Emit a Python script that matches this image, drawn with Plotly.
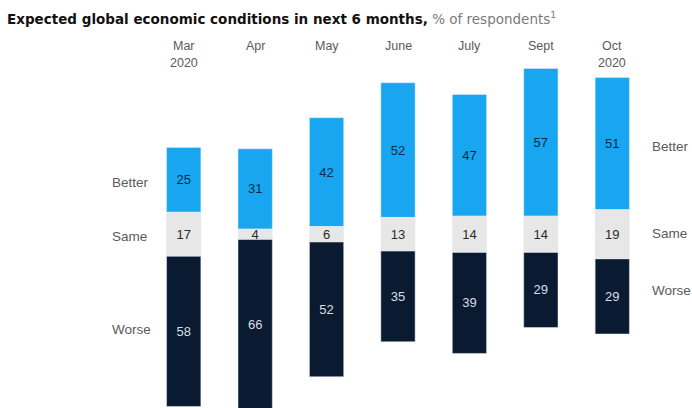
import plotly.graph_objects as go

months = ["Mar", "Apr", "May", "June", "July", "Sept", "Oct"]
years = ["2020", "", "", "", "", "", "2020"]
better = [25, 31, 42, 52, 47, 57, 51]
same = [17, 4, 6, 13, 14, 14, 19]
worse = [58, 66, 52, 35, 39, 29, 29]

C_BETTER = "#17a6ef"
C_SAME = "#e7e7e7"
C_WORSE = "#0a1a30"
GRAY = "#5a5a5a"
FONT = "Liberation Sans, Arial, sans-serif"
TFONT = "DejaVu Sans, sans-serif"

x = list(range(len(months)))
half = [s / 2 for s in same]

fig = go.Figure()
fig.add_trace(go.Bar(
    x=x, y=better, base=half, width=0.48, marker_color=C_BETTER,
    text=[str(v) for v in better], textposition="inside", insidetextanchor="middle",
    textangle=0, constraintext="none",
    textfont=dict(color="#0b2a48", size=13, family=FONT), name="Better"))
fig.add_trace(go.Bar(
    x=x, y=same, base=[-h for h in half], width=0.48, marker_color=C_SAME,
    text=[str(v) for v in same], textposition="inside", insidetextanchor="middle",
    textangle=0, constraintext="none",
    textfont=dict(color="#2a2a2a", size=13, family=FONT), name="Same"))
fig.add_trace(go.Bar(
    x=x, y=[-w for w in worse], base=[-h for h in half], width=0.48, marker_color=C_WORSE,
    text=[str(v) for v in worse], textposition="inside", insidetextanchor="middle",
    textangle=0, constraintext="none",
    textfont=dict(color="#d9dee6", size=13, family=FONT), name="Worse"))

H = 408.0
def py(pix):
    return 1 - pix / H

ann = []
ann.append(dict(xref="paper", yref="paper", x=(5 - 148) / 500, y=py(18), xanchor="left", yanchor="middle",
                showarrow=False, align="left",
                text="<b>Expected global economic conditions in next 6 months,</b> "
                     "<span style='color:#7a7a7a'>% of respondents<sup>1</sup></span>",
                font=dict(size=13.5, color="#111111", family=TFONT)))
for i, (m, yr) in enumerate(zip(months, years)):
    ann.append(dict(xref="x", yref="paper", x=i, y=py(46), xanchor="center", yanchor="middle",
                    showarrow=False, text=m, font=dict(size=12.5, color=GRAY, family=FONT)))
    if yr:
        ann.append(dict(xref="x", yref="paper", x=i, y=py(63), xanchor="center", yanchor="middle",
                        showarrow=False, text=yr, font=dict(size=12.5, color=GRAY, family=FONT)))

left_labels = [("Better", 183), ("Same", 236), ("Worse", 329)]
right_labels = [("Better", 146), ("Same", 234), ("Worse", 290)]
for t, pix in left_labels:
    ann.append(dict(xref="paper", yref="paper", x=(110 - 148) / 500, y=py(pix), xanchor="left",
                    yanchor="middle", showarrow=False, text=t,
                    font=dict(size=13.5, color=GRAY, family=FONT)))
for t, pix in right_labels:
    ann.append(dict(xref="paper", yref="paper", x=(650 - 148) / 500, y=py(pix), xanchor="left",
                    yanchor="middle", showarrow=False, text=t,
                    font=dict(size=13.5, color=GRAY, family=FONT)))

fig.update_layout(
    width=692, height=408,
    margin=dict(l=148, r=44, t=0, b=0),
    paper_bgcolor="white", plot_bgcolor="white",
    showlegend=False, barmode="overlay",
    xaxis=dict(range=[-0.5, 6.5], visible=False, fixedrange=True),
    yaxis=dict(range=[-67.07, 90.46], visible=False, fixedrange=True),
    annotations=ann,
    font=dict(family=FONT),
)

fig.write_html("out.html", config={"displayModeBar": False})
